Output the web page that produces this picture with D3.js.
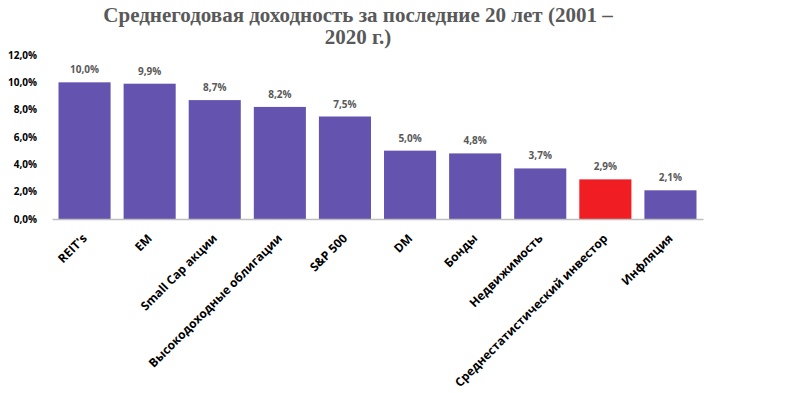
<!DOCTYPE html>
<html>
<head>
<meta charset="utf-8">
<script src="https://cdn.jsdelivr.net/npm/d3@7"></script>
<style>
body { margin: 0; background: #fff; }
svg { display: block; }
</style>
</head>
<body>
<script>
// categories and average yearly returns, %
var categories = ["REIT's", "EM", "Small Cap акции", "Высокодоходные облигации", "S&P 500",
  "DM", "Бонды", "Недвижимость", "Среднестатистический инвестор", "Инфляция"];
var returns = [10.0, 9.9, 8.7, 8.2, 7.5, 5.0, 4.8, 3.7, 2.9, 2.1];
var highlighted = ["Среднестатистический инвестор"];
var yTicks = [0, 2, 4, 6, 8, 10, 12];
var titleLines = ["Среднегодовая доходность за последние 20 лет (2001 –", "2020 г.)"];

var width = 796, height = 393;
var plotLeft = 52, plotRight = 703, plotTop = 55, plotBottom = 219;

var fmt = function(v){ return v.toFixed(1).replace(".", ",") + "%"; };

var svg = d3.select("body").append("svg")
  .attr("width", width)
  .attr("height", height);

var x = d3.scaleBand().domain(categories).range([plotLeft, plotRight]).paddingInner(0.2).paddingOuter(0.1);
var y = d3.scaleLinear().domain([0, 12]).range([plotBottom, plotTop]);

// title
svg.append("g").selectAll("text")
  .data(titleLines)
  .enter()
  .append("text")
  .attr("x", 358)
  .attr("y", function(d, i){ return 22 + i * 22; })
  .attr("text-anchor", "middle")
  .attr("font-family", "Liberation Serif")
  .attr("font-weight", "bold")
  .attr("font-size", "21px")
  .attr("fill", "#595959")
  .text(function(d){ return d; });

// y axis labels, no line
var yAxis = svg.append("g")
  .attr("transform", "translate(" + (plotLeft - 12) + ",0)")
  .call(d3.axisLeft(y).tickValues(yTicks).tickFormat(fmt).tickSize(0));
yAxis.select(".domain").remove();
yAxis.selectAll("text")
  .attr("font-family", "Open Sans")
  .attr("font-weight", "bold")
  .attr("font-size", "10px")
  .attr("fill", "#000")
  .attr("dx", "0");

// bars
svg.append("g").selectAll("rect")
  .data(returns)
  .enter()
  .append("rect")
  .attr("x", function(d, i){ return x(categories[i]); })
  .attr("y", function(d){ return y(d); })
  .attr("width", x.bandwidth())
  .attr("height", function(d){ return y(0) - y(d); })
  .attr("fill", function(d, i){
    if (highlighted.indexOf(categories[i]) > -1){
      return "#F01E23";
    } else {
      return "#6553B0";
    }
  });

// value labels
svg.append("g").selectAll("text")
  .data(returns)
  .enter()
  .append("text")
  .attr("x", function(d, i){ return x(categories[i]) + x.bandwidth() / 2; })
  .attr("y", function(d){ return y(d) - 9; })
  .attr("text-anchor", "middle")
  .attr("font-family", "Open Sans")
  .attr("font-weight", "bold")
  .attr("font-size", "10px")
  .attr("fill", "#595959")
  .text(fmt);

// x axis
var xAxis = svg.append("g")
  .attr("transform", "translate(0," + y(0) + ")")
  .call(d3.axisBottom(x).tickSize(0));
xAxis.select(".domain").attr("stroke", "#BFBFBF").attr("stroke-width", 1.5);
xAxis.selectAll("text")
  .attr("font-family", "Open Sans")
  .attr("font-weight", "bold")
  .attr("font-size", "12px")
  .attr("fill", "#000")
  .attr("text-anchor", "end")
  .attr("dx", "0")
  .attr("dy", "0")
  .attr("transform", "translate(1,18) rotate(-45)");
</script>
</body>
</html>
